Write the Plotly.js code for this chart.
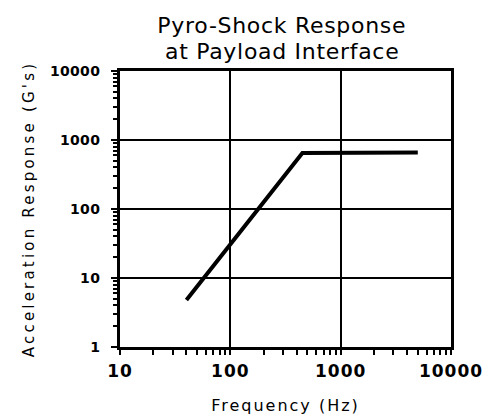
<!DOCTYPE html>
<html>
<head>
<meta charset="utf-8">
<script src="https://cdn.plot.ly/plotly-3.0.1.min.js"></script>
<style>
html,body{margin:0;padding:0;background:#fff;}
#chart{width:491px;height:417px;}
#chart .g-xtitle text{letter-spacing:2px;}
#chart .g-ytitle text{letter-spacing:3.2px;}
#chart .ytick text{letter-spacing:0.3px;}
#chart .xtick text{letter-spacing:1px;}
#chart .annotation-text{letter-spacing:0.7px;}
</style>
</head>
<body>
<div id="chart"></div>
<script>
// Pyro-shock response spectrum
const frequencyHz = [40, 450, 5000];
const accelerationG = [4.8, 650, 660];
const xTickVals = [10, 100, 1000, 10000];
const xTickText = ['10', '100', '1000', '10000'];
const yTickVals = [1, 10, 100, 1000, 10000];
const yTickText = ['1', '10', '100', '1000', '10000'];
const xMinorVals = [20, 30, 40, 50, 60, 70, 80, 90, 200, 300, 400, 500, 600, 700, 800, 900, 2000, 3000, 4000, 5000, 6000, 7000, 8000, 9000];
const yMinorVals = [2, 3, 4, 5, 6, 7, 8, 9, 20, 30, 40, 50, 60, 70, 80, 90, 200, 300, 400, 500, 600, 700, 800, 900, 2000, 3000, 4000, 5000, 6000, 7000, 8000, 9000];
const titleLines = ['Pyro-Shock Response', 'at Payload Interface'];

const lineStyle = {color: '#000', width: 4};
const traces = [
  {x: frequencyHz, y: accelerationG, type: 'scatter', mode: 'lines', line: lineStyle, hoverinfo: 'skip'}
];

const axisCommon = {
  type: 'log',
  showline: true,
  mirror: true,
  linecolor: '#000',
  linewidth: 3,
  showgrid: true,
  gridcolor: '#000',
  gridwidth: 2,
  zeroline: false,
  ticks: 'outside',
  tickcolor: '#000',
  tickwidth: 2,
  ticklen: 5,
  tickmode: 'array'
};

const layout = {
  width: 491,
  height: 417,
  margin: {l: 120, r: 40, t: 71, b: 70},
  paper_bgcolor: '#fff',
  plot_bgcolor: '#fff',
  showlegend: false,
  annotations: [
    {text: titleLines[0], xref: 'paper', yref: 'paper', x: 0.49, y: 1.166, xanchor: 'center', yanchor: 'middle', showarrow: false,
     font: {family: 'DejaVu Sans', size: 22, color: '#000'}},
    {text: titleLines[1], xref: 'paper', yref: 'paper', x: 0.49, y: 1.07, xanchor: 'center', yanchor: 'middle', showarrow: false,
     font: {family: 'DejaVu Sans', size: 22, color: '#000'}}
  ],
  xaxis: Object.assign({}, axisCommon, {
    range: [1, 4],
    tickvals: xTickVals,
    ticktext: xTickText,
    tickfont: {family: 'DejaVu Sans', size: 17, color: '#000', weight: 'bold'},
    ticklabelstandoff: 2,
    minor: {tickmode: 'array', tickvals: xMinorVals, ticks: 'outside', ticklen: 5, tickwidth: 2, tickcolor: '#000', showgrid: false},
    title: {text: 'Frequency (Hz)', font: {family: 'DejaVu Sans', size: 16, color: '#000'}, standoff: 20}
  }),
  yaxis: Object.assign({}, axisCommon, {
    range: [0, 4],
    tickvals: yTickVals,
    ticktext: yTickText,
    tickfont: {family: 'DejaVu Sans', size: 14, color: '#000', weight: 'bold'},
    ticklen: 6,
    ticklabelstandoff: 8,
    minor: {tickmode: 'array', tickvals: yMinorVals, ticks: 'outside', ticklen: 4, tickwidth: 2, tickcolor: '#000', showgrid: false},
    title: {text: "Acceleration Response (G's)", font: {family: 'DejaVu Sans', size: 15, color: '#000'}, standoff: 14}
  })
};

Plotly.newPlot('chart', traces, layout, {staticPlot: true, displayModeBar: false});
</script>
</body>
</html>
